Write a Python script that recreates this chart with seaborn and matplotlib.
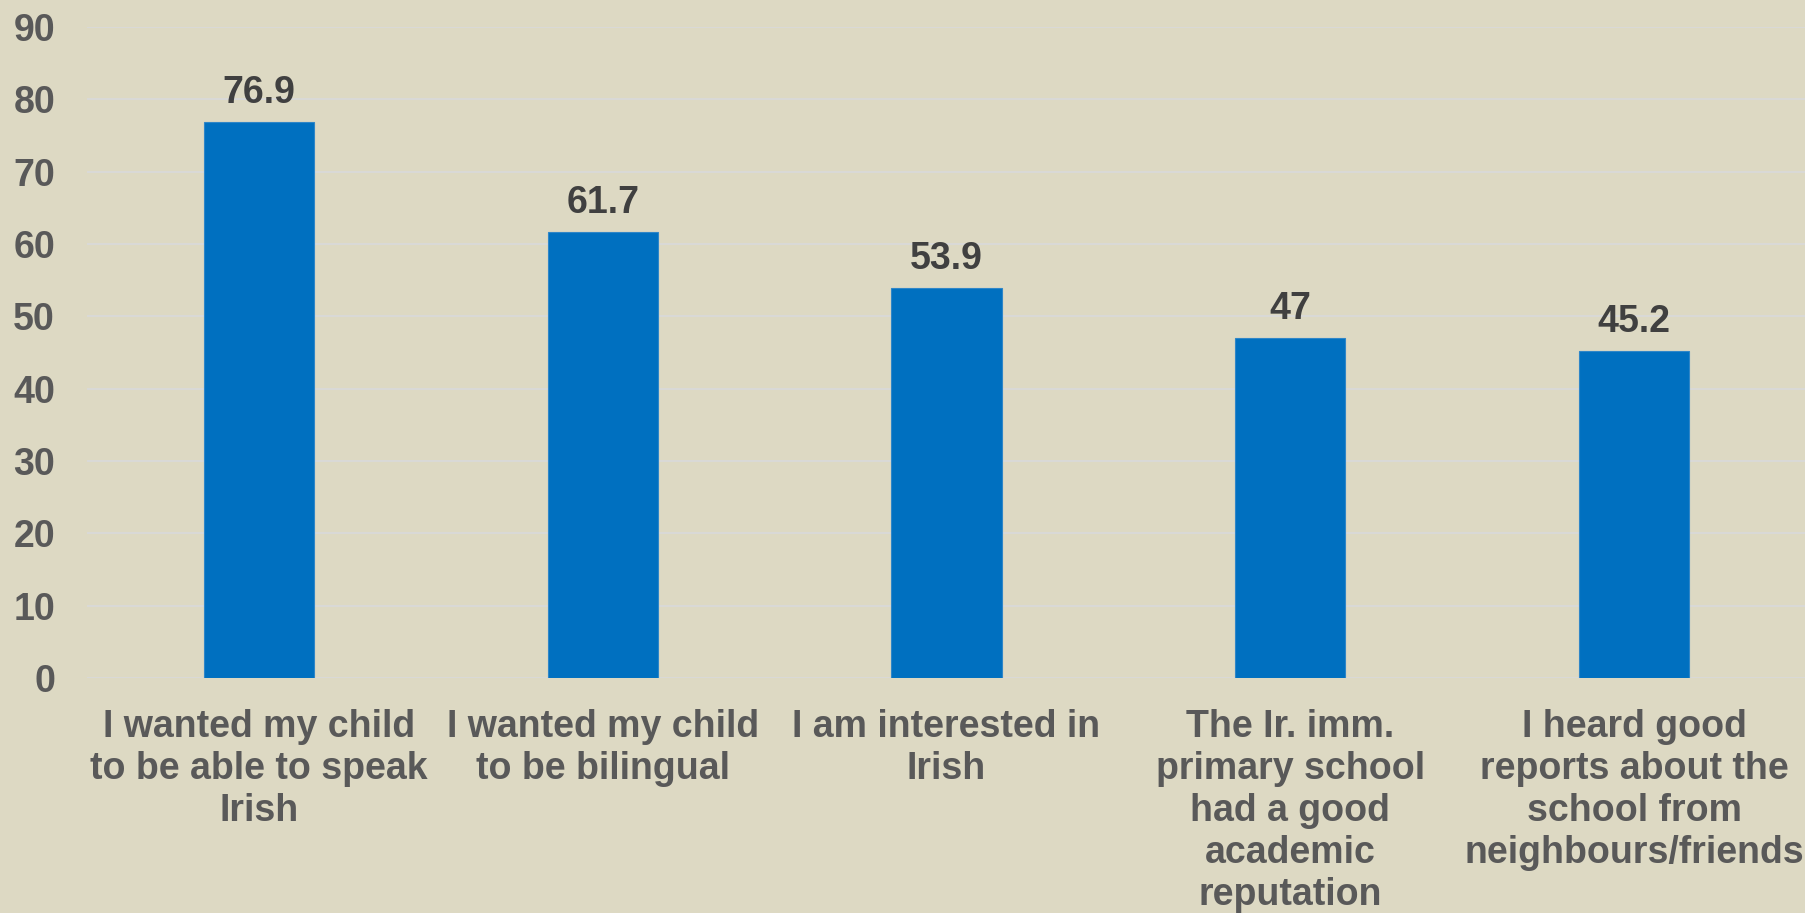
import matplotlib
matplotlib.use("Agg")
import matplotlib.pyplot as plt
import seaborn as sns
import pandas as pd

reasons = [
    "I wanted my child\nto be able to speak\nIrish",
    "I wanted my child\nto be bilingual",
    "I am interested in\nIrish",
    "The Ir. imm.\nprimary school\nhad a good\nacademic\nreputation",
    "I heard good\nreports about the\nschool from\nneighbours/friends",
]
percent = [76.9, 61.7, 53.9, 47, 45.2]
value_labels = ["76.9", "61.7", "53.9", "47", "45.2"]
y_ticks = [0, 10, 20, 30, 40, 50, 60, 70, 80, 90]

BG = "#DDD9C3"
BAR = "#0070C0"
GRID = "#D9D9D9"
TICK_TXT = "#595959"
VAL_TXT = "#404040"
FS = 27

sns.set_theme(style="white")
plt.rcParams["font.family"] = ["Liberation Sans", "DejaVu Sans"]
plt.rcParams["font.weight"] = "bold"

df = pd.DataFrame({"reason": reasons, "percent": percent})

fig = plt.figure(figsize=(18.06, 9.13), dpi=100, facecolor=BG)
ax = fig.add_axes([87 / 1806, (913 - 678) / 913, 1 - 87 / 1806, (678 - 27) / 913])
ax.set_facecolor(BG)

sns.barplot(data=df, x="reason", y="percent", color=BAR, saturation=1,
            width=0.32, ax=ax, zorder=3, edgecolor="#2F86C8", linewidth=0.8)

ax.set_ylim(0, 90)
ax.set_xlim(-0.5, 4.5)
ax.set_yticks(y_ticks)
ax.yaxis.grid(True, color=GRID, linewidth=1.3, zorder=0)
ax.set_axisbelow(True)
for s in ax.spines.values():
    s.set_visible(False)
ax.tick_params(axis="both", length=0)
ax.tick_params(axis="y", pad=23, labelsize=FS, labelcolor=TICK_TXT)
ax.tick_params(axis="x", pad=22, labelsize=FS, labelcolor=TICK_TXT)
for lbl in ax.get_yticklabels():
    lbl.set_fontweight("bold")
for lbl in ax.get_xticklabels():
    lbl.set_fontweight("bold")
    lbl.set_linespacing(1.22)
ax.set_xlabel("")
ax.set_ylabel("")

ax.bar_label(ax.containers[0], labels=value_labels, padding=8,
             fontsize=FS, fontweight="bold", color=VAL_TXT)

fig.savefig("out.png", dpi=100, facecolor=BG)
